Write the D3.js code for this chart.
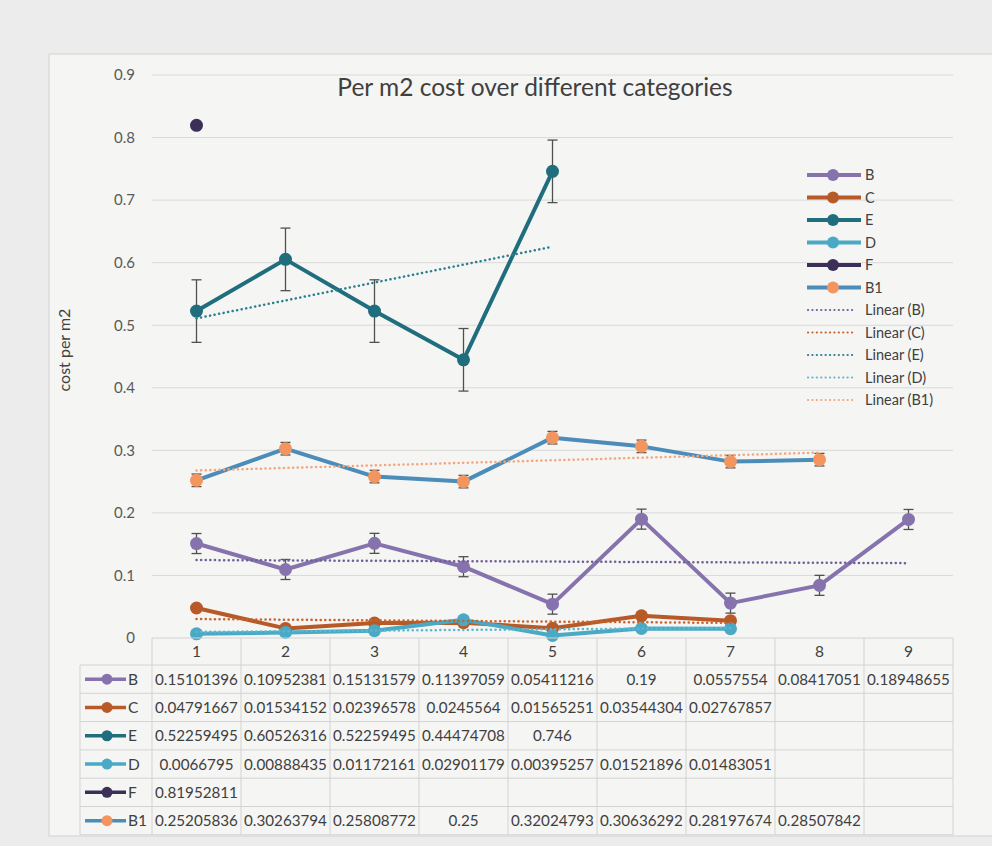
<!DOCTYPE html>
<html><head><meta charset="utf-8">
<script src="https://cdn.jsdelivr.net/npm/d3@7"></script>
<style>
html,body{margin:0;padding:0;background:#ececec;}
svg{display:block;}
text{font-family:Lato,"Open Sans",sans-serif;}
</style></head>
<body>
<svg id="c" width="992" height="846"></svg>
<script>
const categories = ["1","2","3","4","5","6","7","8","9"];
const yTicks = [0,0.1,0.2,0.3,0.4,0.5,0.6,0.7,0.8,0.9];
const seriesNames = ["B","C","E","D","F","B1"];
const valsB  = [0.15101396,0.10952381,0.15131579,0.11397059,0.05411216,0.19,0.0557554,0.08417051,0.18948655];
const valsC  = [0.04791667,0.01534152,0.02396578,0.0245564,0.01565251,0.03544304,0.02767857,null,null];
const valsE  = [0.52259495,0.60526316,0.52259495,0.44474708,0.746,null,null,null,null];
const valsD  = [0.0066795,0.00888435,0.01172161,0.02901179,0.00395257,0.01521896,0.01483051,null,null];
const valsF  = [0.81952811,null,null,null,null,null,null,null,null];
const valsB1 = [0.25205836,0.30263794,0.25808772,0.25,0.32024793,0.30636292,0.28197674,0.28507842,null];
const tableText = {
  B:["0.15101396","0.10952381","0.15131579","0.11397059","0.05411216","0.19","0.0557554","0.08417051","0.18948655"],
  C:["0.04791667","0.01534152","0.02396578","0.0245564","0.01565251","0.03544304","0.02767857","",""],
  E:["0.52259495","0.60526316","0.52259495","0.44474708","0.746","","","",""],
  D:["0.0066795","0.00888435","0.01172161","0.02901179","0.00395257","0.01521896","0.01483051","",""],
  F:["0.81952811","","","","","","","",""],
  B1:["0.25205836","0.30263794","0.25808772","0.25","0.32024793","0.30636292","0.28197674","0.28507842",""]
};
const errorAmounts = {B:0.016, C:0, E:0.05, D:0, F:0, B1:0.01};
const lineColors   = {B:"#8673ad", C:"#b85a28", E:"#1f6d7d", D:"#4aa9c4", F:"#3b2f58", B1:"#4c8cb8"};
const markerColors = {B:"#8673ad", C:"#b85a28", E:"#1f6d7d", D:"#4aa9c4", F:"#3b2f58", B1:"#f2955f"};
const trendNames   = ["B","C","E","D","B1"];
const trendColors  = {B:"#6f5f98", C:"#c8632e", E:"#2a7f8f", D:"#5ab8d0", B1:"#f4a67c"};
const seriesVals = {B:valsB, C:valsC, E:valsE, D:valsD, F:valsF, B1:valsB1};

const svg = d3.select("#c");
// chart area
svg.append("rect").attr("x",49).attr("y",54).attr("width",960).attr("height",782)
  .attr("fill","#f5f5f4").attr("stroke","#d2d2d2").attr("stroke-width",1);

const x = d3.scaleBand().domain(categories).range([152,953]).padding(0);
const y = d3.scaleLinear().domain([0,0.9]).range([638,75]);
const cx = c => x(c) + x.bandwidth()/2;

// gridlines
svg.append("g").selectAll("line").data(yTicks.filter(t=>t>0)).join("line")
  .attr("x1",152).attr("x2",953).attr("y1",d=>y(d)).attr("y2",d=>y(d))
  .attr("stroke","#d9d9d9").attr("stroke-width",1);

// y axis labels
const yAxis = d3.axisLeft(y).tickValues(yTicks).tickSize(0).tickPadding(17)
  .tickFormat(d=>d===0?"0":d3.format(".1f")(d));
const ga = svg.append("g").attr("transform","translate(152,0)").call(yAxis);
ga.select(".domain").remove();
ga.selectAll("text").attr("font-size",15).attr("fill","#595959").style("font-family","Lato,sans-serif");

svg.append("text").attr("transform","translate(70,350) rotate(-90)")
  .attr("text-anchor","middle").attr("font-size",16).attr("fill","#404040").text("cost per m2");

svg.append("text").attr("x",535).attr("y",96).attr("text-anchor","middle")
  .attr("font-size",24.5).attr("fill","#404040").text("Per m2 cost over different categories");

// series lines
const line = d3.line().defined(d=>d.v!==null).x(d=>cx(d.c)).y(d=>y(d.v));
const seriesData = seriesNames.map(n=>({name:n, pts:categories.map((c,i)=>({c, v:seriesVals[n][i]}))}));

const gS = svg.append("g");
seriesData.forEach(s=>{
  gS.append("path").datum(s.pts).attr("d",line).attr("fill","none")
    .attr("stroke",lineColors[s.name]).attr("stroke-width",4).attr("stroke-linejoin","round");
});
// error bars
seriesData.forEach(s=>{
  const e = errorAmounts[s.name];
  if(!e) return;
  const pts = s.pts.filter(p=>p.v!==null);
  const g = gS.append("g").attr("stroke","#505050").attr("stroke-width",1.3);
  pts.forEach(p=>{
    const X = cx(p.c);
    g.append("line").attr("x1",X).attr("x2",X).attr("y1",y(p.v-e)).attr("y2",y(p.v+e));
    g.append("line").attr("x1",X-5).attr("x2",X+5).attr("y1",y(p.v-e)).attr("y2",y(p.v-e));
    g.append("line").attr("x1",X-5).attr("x2",X+5).attr("y1",y(p.v+e)).attr("y2",y(p.v+e));
  });
});
// markers
seriesData.forEach(s=>{
  gS.append("g").selectAll("circle").data(s.pts.filter(p=>p.v!==null)).join("circle")
    .attr("cx",p=>cx(p.c)).attr("cy",p=>y(p.v)).attr("r",6.5).attr("fill",markerColors[s.name]);
});
// trendlines (least squares on category index)
trendNames.forEach(n=>{
  const pts = seriesVals[n].map((v,i)=>({i:i+1,v})).filter(p=>p.v!==null);
  const mx = d3.mean(pts,p=>p.i), my = d3.mean(pts,p=>p.v);
  const slope = d3.sum(pts,p=>(p.i-mx)*(p.v-my))/d3.sum(pts,p=>(p.i-mx)*(p.i-mx));
  const f = i => my + slope*(i-mx);
  const i0 = pts[0].i, i1 = pts[pts.length-1].i;
  gS.append("line").attr("x1",cx(categories[i0-1])).attr("x2",cx(categories[i1-1]))
    .attr("y1",y(f(i0))).attr("y2",y(f(i1)))
    .attr("stroke",trendColors[n]).attr("stroke-width",2.5)
    .attr("stroke-dasharray","0.1,4.5").attr("stroke-linecap","round");
});

// legend
const leg = svg.append("g");
const legY0 = 175, legStep = 22.5;
seriesNames.forEach((n,i)=>{
  const yy = legY0 + i*legStep;
  leg.append("line").attr("x1",807).attr("x2",861).attr("y1",yy).attr("y2",yy)
    .attr("stroke",lineColors[n]).attr("stroke-width",4);
  leg.append("circle").attr("cx",833).attr("cy",yy).attr("r",6).attr("fill",markerColors[n]);
  leg.append("text").attr("x",865).attr("y",yy+5).attr("font-size",14.5).attr("fill","#404040").text(n);
});
trendNames.forEach((n,i)=>{
  const yy = legY0 + (seriesNames.length+i)*legStep;
  leg.append("line").attr("x1",808).attr("x2",856).attr("y1",yy).attr("y2",yy)
    .attr("stroke",trendColors[n]).attr("stroke-width",2.2)
    .attr("stroke-dasharray","0.1,4.3").attr("stroke-linecap","round");
  leg.append("text").attr("x",865).attr("y",yy+5).attr("font-size",14.5).attr("fill","#404040").text("Linear ("+n+")");
});

// data table
const tbl = svg.append("g");
const headTop = 638, headBot = 665, rowH = 28.3;
const gridCol = "#d3d3d3";
tbl.append("line").attr("x1",152).attr("x2",953).attr("y1",headTop).attr("y2",headTop).attr("stroke",gridCol);
for(let r=0;r<=seriesNames.length;r++){
  const yy = headBot + r*rowH;
  tbl.append("line").attr("x1",80).attr("x2",953).attr("y1",yy).attr("y2",yy).attr("stroke",gridCol);
}
categories.forEach(c=>{
  tbl.append("line").attr("x1",x(c)).attr("x2",x(c)).attr("y1",headTop).attr("y2",headBot+seriesNames.length*rowH).attr("stroke",gridCol);
});
tbl.append("line").attr("x1",953).attr("x2",953).attr("y1",headTop).attr("y2",headBot+seriesNames.length*rowH).attr("stroke",gridCol);
tbl.append("line").attr("x1",80).attr("x2",80).attr("y1",headBot).attr("y2",headBot+seriesNames.length*rowH).attr("stroke",gridCol);
categories.forEach(c=>{
  tbl.append("text").attr("x",cx(c)).attr("y",657).attr("text-anchor","middle")
    .attr("font-size",15.5).attr("fill","#404040").text(c);
});
seriesNames.forEach((n,r)=>{
  const yy = headBot + r*rowH + rowH/2;
  tbl.append("line").attr("x1",85).attr("x2",126).attr("y1",yy).attr("y2",yy)
    .attr("stroke",lineColors[n]).attr("stroke-width",3.5);
  tbl.append("circle").attr("cx",107).attr("cy",yy).attr("r",5.5).attr("fill",markerColors[n]);
  tbl.append("text").attr("x",128).attr("y",yy+5.5).attr("font-size",15.5).attr("fill","#404040").text(n);
  tableText[n].forEach((t,i)=>{
    if(!t) return;
    tbl.append("text").attr("x",cx(categories[i])).attr("y",yy+5.5).attr("text-anchor","middle")
      .attr("font-size",15.2).attr("fill","#404040").text(t);
  });
});
</script>
</body></html>
